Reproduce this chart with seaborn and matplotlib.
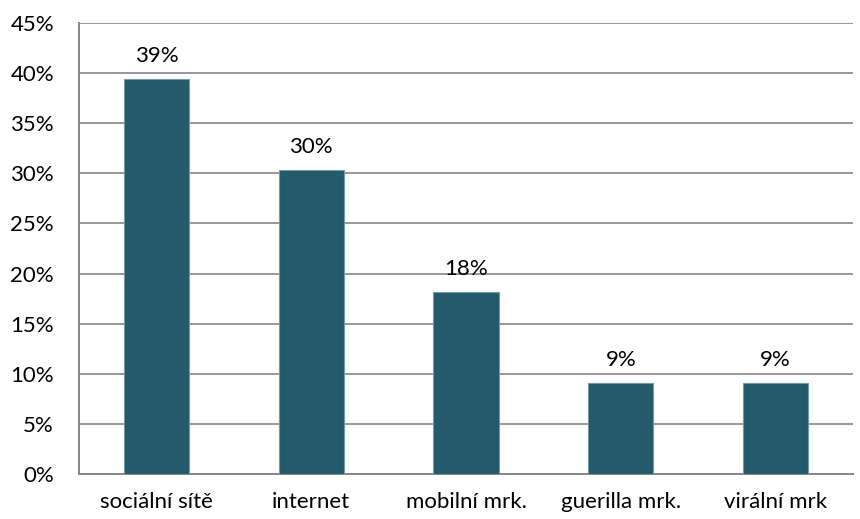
import matplotlib
matplotlib.use("Agg")
import matplotlib.pyplot as plt
import seaborn as sns
import pandas as pd
import numpy as np

categories = ["sociální sítě", "internet", "mobilní mrk.", "guerilla mrk.", "virální mrk"]
shares = [39.39, 30.30, 18.18, 9.09, 9.09]
y_ticks = [0, 5, 10, 15, 20, 25, 30, 35, 40, 45]

sns.set_theme(style="white")
plt.rcParams["font.family"] = ["Lato", "DejaVu Sans"]

df = pd.DataFrame({"kanal": categories, "podil": shares})

fig = plt.figure(figsize=(8.6, 5.19), dpi=100)
ax = fig.add_axes([79 / 860, 1 - 474 / 519, (853 - 79) / 860, (474 - 23) / 519])

grid_col = "#868686"
bar_col = "#245a6a"
fs = 16

sns.barplot(data=df, x="kanal", y="podil", color=bar_col, width=0.42,
            edgecolor="#6f9aa6", linewidth=0.8, saturation=1, ax=ax, zorder=3)

ax.set_ylim(0, 45)
ax.set_xlim(-0.5, len(categories) - 0.5)
ax.set_yticks(y_ticks)
ax.set_yticklabels([f"{t}%" for t in y_ticks], fontsize=fs, color="#000000")
for t in y_ticks[1:]:
    ax.axhline(t, color=grid_col, linewidth=1.2, zorder=1)

ax.set_xticks(range(len(categories)))
ax.set_xticklabels(categories, fontsize=fs, color="#000000")
ax.set_xticks(np.arange(-0.5, len(categories), 1.0), minor=True)
ax.tick_params(axis="x", which="major", length=0, pad=13)
ax.tick_params(axis="x", which="minor", length=6, width=1.2, color=grid_col, direction="out")
ax.tick_params(axis="y", which="major", length=8, width=1.2, color=grid_col, direction="out", pad=10)

for side in ["top", "right"]:
    ax.spines[side].set_visible(False)
for side in ["left", "bottom"]:
    ax.spines[side].set_color(grid_col)
    ax.spines[side].set_linewidth(1.4)
ax.set_xlabel("")
ax.set_ylabel("")

for i, v in enumerate(shares):
    ax.text(i, v + 1.3, f"{v:.0f}%", ha="center", va="bottom", fontsize=fs, color="#000000")

fig.savefig("out.png", dpi=100)
